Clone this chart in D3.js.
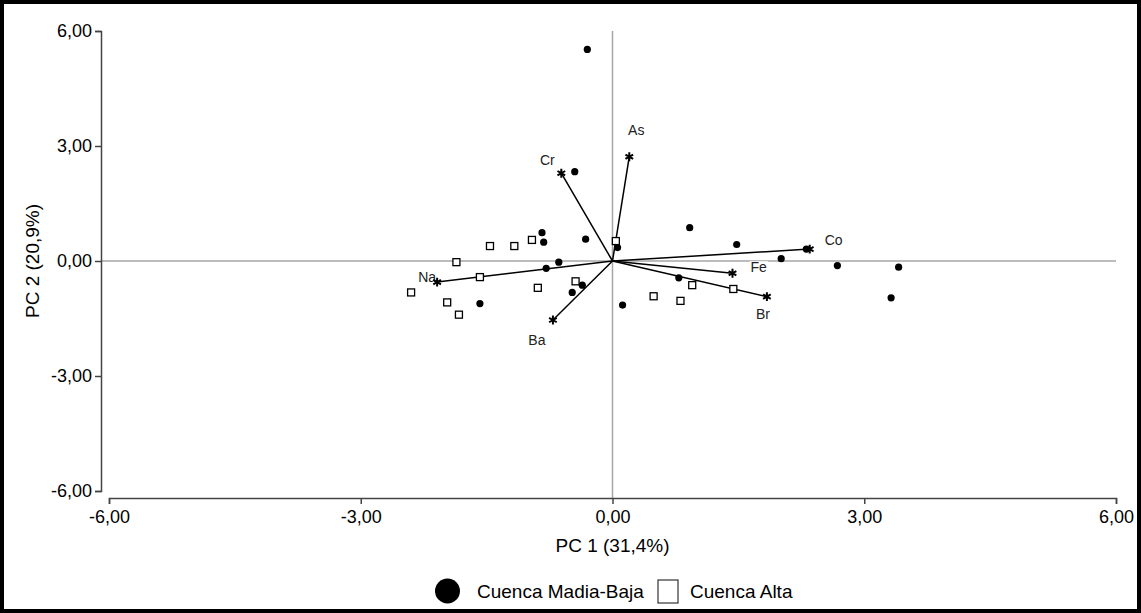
<!DOCTYPE html>
<html>
<head>
<meta charset="utf-8">
<script src="https://cdn.jsdelivr.net/npm/d3@7"></script>
<style>
html,body{margin:0;padding:0;background:#fff;}
svg{display:block;font-family:"Liberation Sans",Arial,sans-serif;}
</style>
</head>
<body>
<svg id="chart" width="1141" height="613"></svg>
<script>
// ---- data ----
const axisTicks = [-6, -3, 0, 3, 6];
const xTitle = "PC 1 (31,4%)";
const yTitle = "PC 2 (20,9%)";
const seriesNames = ["Cuenca Madia-Baja", "Cuenca Alta"];

// Cuenca Madia-Baja (filled circles)
const bajaPC1 = [-0.30, -0.45, -0.84, -0.82, -0.32, -0.64, -0.79, -0.36, -0.48, -1.58, 0.12, 0.06, 0.92, 1.48, 2.01, 2.31, 2.68, 3.41, 3.32, 0.79];
const bajaPC2 = [5.52, 2.33, 0.74, 0.49, 0.57, -0.03, -0.19, -0.63, -0.82, -1.11, -1.15, 0.35, 0.87, 0.43, 0.06, 0.31, -0.12, -0.16, -0.96, -0.44];

// Cuenca Alta (open squares)
const altaPC1 = [-1.46, -1.17, -0.96, -1.86, -1.58, -0.44, -0.89, -2.40, -1.97, -1.83, 0.04, 0.95, 1.44, 0.49, 0.81];
const altaPC2 = [0.39, 0.39, 0.55, -0.03, -0.42, -0.53, -0.70, -0.82, -1.08, -1.40, 0.52, -0.63, -0.73, -0.92, -1.04];

// Variables (loading vectors)
const varNames = ["Na", "Ba", "Cr", "As", "Co", "Fe", "Br"];
const varPC1 = [-2.09, -0.71, -0.61, 0.20, 2.35, 1.43, 1.84];
const varPC2 = [-0.55, -1.54, 2.29, 2.72, 0.31, -0.32, -0.93];

// ---- label placement (style, not data) ----
const labelStyle = {
  Na: {dx: -1, dy: 0, anchor: "end"},
  Ba: {dx: -16, dy: 25, anchor: "middle"},
  Cr: {dx: -14, dy: -8, anchor: "middle"},
  As: {dx: 7, dy: -22, anchor: "middle"},
  Co: {dx: 15, dy: -4, anchor: "start"},
  Fe: {dx: 18, dy: -1, anchor: "start"},
  Br: {dx: -4, dy: 22, anchor: "middle"}
};

const svg = d3.select("#chart");
const W = 1141, H = 613;

const x = d3.scaleLinear().domain([-6, 6]).range([109, 1116]);
const y = d3.scaleLinear().domain([-6, 6]).range([491, 31]);
const yAxisX = 101, xAxisY = 498;
const locale = d3.formatLocale({decimal: ",", thousands: ".", grouping: [3], currency: ["", ""], minus: "-"});
const fmt = locale.format(".2f");

// border
svg.append("rect").attr("x", 2).attr("y", 2).attr("width", W - 4).attr("height", H - 4)
  .attr("fill", "#fff").attr("stroke", "#000").attr("stroke-width", 4);

// reference lines
svg.append("line").attr("x1", yAxisX).attr("x2", x(6)).attr("y1", y(0)).attr("y2", y(0))
  .attr("stroke", "#a6a6a6").attr("stroke-width", 1.5);
svg.append("line").attr("x1", x(0)).attr("x2", x(0)).attr("y1", y(6)).attr("y2", xAxisY)
  .attr("stroke", "#a6a6a6").attr("stroke-width", 1.5);

// axes
const yAxis = svg.append("g").attr("transform", `translate(${yAxisX},0)`)
  .call(d3.axisLeft(y).tickValues(axisTicks).tickFormat(fmt).tickSizeOuter(0).tickSize(6).tickPadding(3));
const xAxis = svg.append("g").attr("transform", `translate(0,${xAxisY})`)
  .call(d3.axisBottom(x).tickValues(axisTicks).tickFormat(fmt).tickSizeOuter(0).tickSize(6).tickPadding(6));
[yAxis, xAxis].forEach(g => {
  g.selectAll("path,line").attr("stroke", "#444").attr("stroke-width", 1.5);
  g.selectAll("text").attr("fill", "#000").style("font-size", "18px")
    .style("font-family", '"Liberation Sans",Arial,sans-serif');
});

// axis titles
svg.append("text").attr("x", x(0)).attr("y", 552).attr("text-anchor", "middle")
  .style("font-size", "19px").text(xTitle);
svg.append("text").attr("transform", `translate(39,${y(0)}) rotate(-90)`).attr("text-anchor", "middle")
  .style("font-size", "19px").text(yTitle);

// variable data
const vars = varNames.map((n, i) => ({name: n, x: varPC1[i], y: varPC2[i]}));

// labels with white background
const lg = svg.append("g");
vars.forEach(v => {
  const s = labelStyle[v.name];
  const t = lg.append("text").attr("x", x(v.x) + s.dx).attr("y", y(v.y) + s.dy)
    .attr("text-anchor", s.anchor).style("font-size", "14px").attr("fill", "#222").text(v.name);
  const b = t.node().getBBox();
  lg.insert("rect", "text").attr("x", b.x - 1).attr("y", b.y + 2).attr("width", b.width + 2).attr("height", b.height - 4)
    .attr("fill", "#fff");
});

// vectors
svg.append("g").selectAll("line").data(vars).join("line")
  .attr("x1", x(0)).attr("y1", y(0)).attr("x2", d => x(d.x)).attr("y2", d => y(d.y))
  .attr("stroke", "#000").attr("stroke-width", 1.5);

// points
const baja = bajaPC1.map((v, i) => ({x: v, y: bajaPC2[i]}));
const alta = altaPC1.map((v, i) => ({x: v, y: altaPC2[i]}));

svg.append("g").selectAll("rect").data(alta).join("rect")
  .attr("x", d => x(d.x) - 3.5).attr("y", d => y(d.y) - 3.5).attr("width", 7).attr("height", 7)
  .attr("fill", "#fff").attr("stroke", "#000").attr("stroke-width", 1.3);
svg.append("g").selectAll("circle").data(baja).join("circle")
  .attr("cx", d => x(d.x)).attr("cy", d => y(d.y)).attr("r", 3.6).attr("fill", "#000");

// variable markers (asterisks)
svg.append("g").selectAll("path").data(vars).join("path")
  .attr("transform", d => `translate(${x(d.x)},${y(d.y)})`)
  .attr("d", d3.symbol().type(d3.symbolAsterisk).size(55))
  .attr("fill", "none").attr("stroke", "#000").attr("stroke-width", 2);

// legend
const leg = svg.append("g");
leg.append("ellipse").attr("cx", 447.5).attr("cy", 591).attr("rx", 12.5).attr("ry", 12.5).attr("fill", "#000");
leg.append("text").attr("x", 477).attr("y", 598).style("font-size", "19px").text(seriesNames[0]);
leg.append("rect").attr("x", 658).attr("y", 580).attr("width", 20).attr("height", 23)
  .attr("fill", "#fff").attr("stroke", "#333").attr("stroke-width", 1.2);
leg.append("text").attr("x", 690).attr("y", 598).style("font-size", "19px").text(seriesNames[1]);
</script>
</body>
</html>
